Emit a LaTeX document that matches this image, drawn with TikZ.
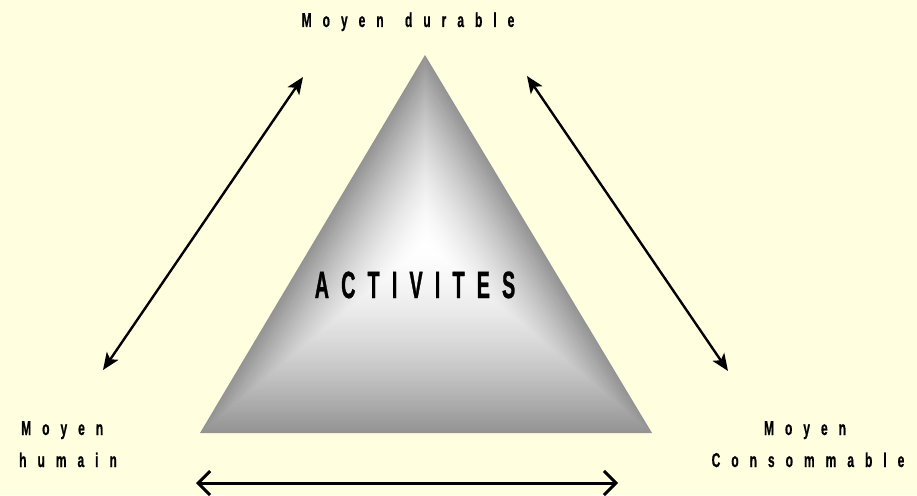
\documentclass[tikz,border=0pt]{standalone}
\usepackage{fontspec}
\usepackage{xcolor}
\usepackage{tikz}
\usetikzlibrary{arrows.meta,calc}
\newfontfamily\lblfont{Liberation Sans}[FakeStretch=0.6,LetterSpace=55,FakeBold=0.6]
\newfontfamily\actfont{Liberation Sans}[FakeStretch=0.52,LetterSpace=32,FakeBold=0.8]
\definecolor{bgyel}{RGB}{255,255,224}
\definecolor{pyredge}{gray}{0.58}
\tikzset{
  lbl/.style={font=\lblfont\bfseries\fontsize{20}{24}\selectfont,inner sep=0pt,anchor=base},
  act/.style={font=\actfont\bfseries\fontsize{38}{40}\selectfont,inner sep=0pt,anchor=base},
  dia/.style={line width=2.4pt,{Stealth[length=17pt,width=14pt,inset=4pt]}-{Stealth[length=17pt,width=14pt,inset=4pt]}},
  bas/.style={line width=3pt,{Straight Barb[length=12pt,width=24pt]}-{Straight Barb[length=12pt,width=24pt]}}
}

\begin{document}
\begin{tikzpicture}[x=1pt,y=-1pt]
\fill[bgyel] (0,0) rectangle (917,495);
\useasboundingbox (0,0) rectangle (917,495);
% pyramid, shaded from the edges to the centre
\coordinate (apex) at (425,55);
\coordinate (bl) at (200,433);
\coordinate (br) at (652,433);
\coordinate (ctr) at (426,244);
\foreach \i in {80,...,1}{
  \pgfmathsetmacro\s{\i/80}
  \pgfmathsetmacro\w{100*(1-\s^1.6)}
  \fill[white!\w!pyredge] ($(ctr)!\s!(apex)$) -- ($(ctr)!\s!(bl)$) -- ($(ctr)!\s!(br)$) -- cycle;
}
\node[act] (acti) at (415,298) {ACTIVITES};
% labels
\node[lbl] (dur) at (408,27) {Moyen\hspace{7pt} durable};
\node[lbl,anchor=base west] (humA) at (21,435) {Moyen};
\node[lbl,anchor=base west] (humB) at (19,467) {humain};
\node[lbl] (conA) at (805,435) {Moyen};
\node[lbl] (conB) at (808,467) {Consommable};
% arrows
\coordinate (lA) at (103,370); \coordinate (lB) at (303,77);
\coordinate (rA) at (527,76); \coordinate (rB) at (728,371);
\coordinate (bA) at (196,483); \coordinate (bB) at (618,483);
\draw[dia] (lA) -- (lB);
\draw[dia] (rA) -- (rB);
\draw[bas] (bA) -- (bB);
\end{tikzpicture}
\end{document}
